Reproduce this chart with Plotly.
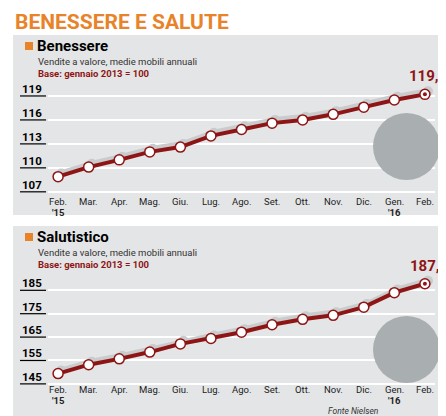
import plotly.graph_objects as go

months = ["Feb.", "Mar.", "Apr.", "Mag.", "Giu.", "Lug.", "Ago.", "Set.", "Ott.",
          "Nov.", "Dic.", "Gen.", "Feb."]
years = {0: "'15", 11: "'16"}
benessere = [108.9, 110.1, 111.0, 112.0, 112.6, 114.0, 114.8, 115.6, 116.0, 116.7, 117.6, 118.5, 119.2]
salutistico = [149.4, 153.2, 155.7, 158.6, 162.1, 164.4, 167.1, 170.3, 172.6, 174.3, 177.8, 184.0, 187.8]
ticks_top = [107, 110, 113, 116, 119]
ticks_bot = [145, 155, 165, 175, 185]

W, H = 446, 416
FONT = "Roboto, sans-serif"
RED = "#8e1515"
ORANGE = "#e8832a"
xs = list(range(len(months)))

def px(p):
    return 1 - p / H

fig = go.Figure()

panels = [
    dict(data=benessere, ticks=ticks_top, ax="", rng=[105.6, 121.25], dom=[px(195), px(70)],
         dy=0.4, name="Benessere", label="119,2", box=(27, 207), lab=193),
    dict(data=salutistico, ticks=ticks_bot, ax="2", rng=[141.1, 192.4], dom=[px(385), px(265)],
         dy=1.3, name="Salutistico", label="187,8", box=(218, 410), lab=389),
]

for p in panels:
    xa, ya = "x" + p["ax"], "y" + p["ax"]
    # grey shadow behind the line
    fig.add_trace(go.Scatter(x=[v + 0.1 for v in xs], y=[v + p["dy"] for v in p["data"]],
                             xaxis=xa, yaxis=ya, mode="lines+markers",
                             line=dict(color="#c9cbcd", width=6),
                             marker=dict(size=10, color="#c9cbcd"), hoverinfo="skip"))
    fig.add_trace(go.Scatter(x=xs, y=p["data"], xaxis=xa, yaxis=ya, mode="lines+markers",
                             line=dict(color=RED, width=4),
                             marker=dict(size=10, color="white", line=dict(color=RED, width=1.5))))
    fig.add_trace(go.Scatter(x=[xs[-1]], y=[p["data"][-1]], xaxis=xa, yaxis=ya, mode="markers",
                             marker=dict(size=4, color=RED)))
    fig.add_shape(type="rect", xref="paper", yref="paper", x0=5 / W, x1=440 / W,
                  y0=px(p["box"][1]), y1=px(p["box"][0]), fillcolor="#e4e5e6",
                  line_width=0, layer="below")
    # decorative circle behind icon
    fig.add_shape(type="circle", xref="paper", yref="paper", x0=365 / W, x1=432 / W,
                  y0=px(p["box"][1] - 35), y1=px(p["box"][1] - 102), fillcolor="#a9aeb1",
                  line_width=0, layer="above")
    b0 = p["box"][0]
    fig.add_shape(type="rect", xref="paper", yref="paper", x0=17 / W, x1=25 / W,
                  y0=px(b0 + 15), y1=px(b0 + 7), fillcolor=ORANGE, line_width=0)
    fig.add_annotation(x=27 / W, y=px(b0 + 11), xref="paper", yref="paper", xanchor="left",
                       yanchor="middle", showarrow=False, text="<b>" + p["name"] + "</b>",
                       font=dict(family=FONT, size=15, color="black"))
    fig.add_annotation(x=28 / W, y=px(b0 + 26), xref="paper", yref="paper", xanchor="left",
                       yanchor="middle", showarrow=False,
                       text="Vendite a valore, medie mobili annuali",
                       font=dict(family=FONT, size=9.5, color="#333"))
    fig.add_annotation(x=28 / W, y=px(b0 + 38), xref="paper", yref="paper", xanchor="left",
                       yanchor="middle", showarrow=False, text="<b>Base: gennaio 2013 = 100</b>",
                       font=dict(family=FONT, size=9.5, color=RED))
    fig.add_annotation(x=xs[-1], y=p["data"][-1], xref=xa, yref=ya, yshift=18, xshift=4,
                       showarrow=False, text="<b>" + p["label"] + "</b>",
                       font=dict(family=FONT, size=15, color=RED))
    for t in p["ticks"]:
        fig.add_annotation(x=12 / W, y=t, xref="paper", yref=ya, xanchor="left",
                           yanchor="bottom", showarrow=False, text="<b>" + str(t) + "</b>",
                           font=dict(family=FONT, size=11.5, color="black"), yshift=-2)
        fig.add_shape(type="line", xref="paper", yref=ya, x0=12 / W, x1=38 / W, y0=t, y1=t,
                      line=dict(color="black", width=1.2))
    for i, m in enumerate(months):
        fig.add_annotation(x=i, y=px(p["lab"]), xref=xa, yref="paper", showarrow=False,
                           text=m, font=dict(family=FONT, size=9.5, color="#222"))
        if i in years:
            fig.add_annotation(x=i, y=px(p["lab"] + 11), xref=xa, yref="paper", showarrow=False,
                               text="<b>" + years[i] + "</b>",
                               font=dict(family=FONT, size=9.5, color="#222"))
    axis_x = dict(domain=[40 / W, 427 / W], range=[-0.33, 12.33], showticklabels=False,
                  showgrid=False, zeroline=False, showline=False, ticks="")
    axis_y = dict(domain=p["dom"], range=p["rng"], tickvals=p["ticks"], showticklabels=False,
                  gridcolor="white", gridwidth=1.5, zeroline=False, showline=False)
    if p["ax"]:
        axis_x["anchor"] = "y2"
        axis_y["anchor"] = "x2"
    fig.update_layout(**{"xaxis" + p["ax"]: axis_x, "yaxis" + p["ax"]: axis_y})

fig.add_annotation(x=5 / W, y=px(14), xref="paper", yref="paper", xanchor="left", yanchor="middle",
                   showarrow=False, text="<b>BENESSERE E SALUTE</b>",
                   font=dict(family=FONT, size=21, color=ORANGE))
fig.add_annotation(x=318 / W, y=px(403), xref="paper", yref="paper", xanchor="left",
                   yanchor="middle", showarrow=False, text="<i>Fonte Nielsen</i>",
                   font=dict(family=FONT, size=8.5, color="#333"))

fig.update_layout(width=W, height=H, margin=dict(l=0, r=0, t=0, b=0), showlegend=False,
                  plot_bgcolor="rgba(0,0,0,0)", paper_bgcolor="white")
fig.write_html("out.html")
